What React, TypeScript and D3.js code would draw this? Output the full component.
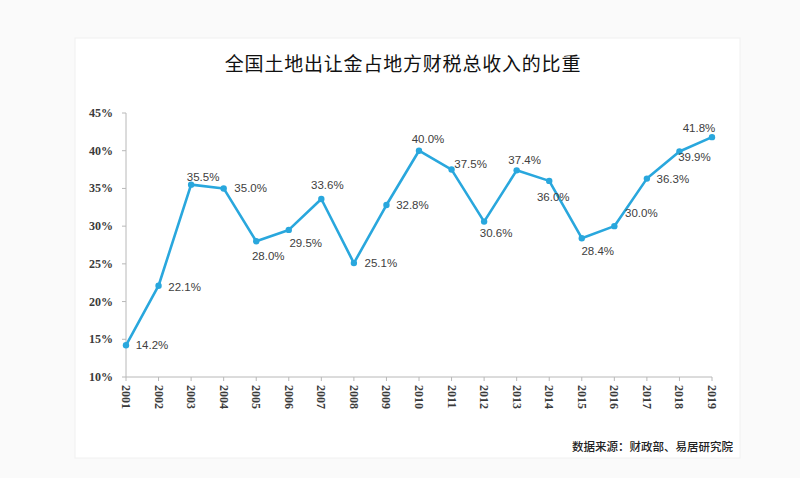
import React from 'react';
import * as d3 from 'd3';

const years = ['2001', '2002', '2003', '2004', '2005', '2006', '2007', '2008', '2009', '2010',
  '2011', '2012', '2013', '2014', '2015', '2016', '2017', '2018', '2019'];
const shares = [14.2, 22.1, 35.5, 35.0, 28.0, 29.5, 33.6, 25.1, 32.8, 40.0,
  37.5, 30.6, 37.4, 36.0, 28.4, 30.0, 36.3, 39.9, 41.8];
const yTicks = [10, 15, 20, 25, 30, 35, 40, 45];

const title = '全国土地出让金占地方财税总收入的比重';
const source = '数据来源：财政部、易居研究院';

// label offset (centre of text relative to the point)
const labelOffsets: [number, number][] = [
  [26, 0], [26, 1], [12, -8], [27, 0], [12, 15], [17, 13], [6, -14], [27, 0], [26, 0], [9, -12],
  [19, -6], [12, 11], [8, -10], [4, 16], [16, 13], [27, -13], [26, 0], [15, 6], [-13, -9],
];

const W = 800;
const H = 478;
const margin = { top: 113, right: 88, bottom: 101, left: 126 };

export default function App() {
  const x = d3.scalePoint<string>()
    .domain(years)
    .range([margin.left, W - margin.right]);

  const y = d3.scaleLinear()
    .domain([10, 45])
    .range([H - margin.bottom, margin.top]);

  const line = d3.line<number>()
    .x((_, i) => x(years[i]) as number)
    .y(d => y(d));

  const lineColor = '#29a7dd';
  const axisColor = '#b8b8b8';

  return (
    <div style={{ position: 'fixed', left: 0, top: 0, width: W, height: H }}>
      <svg width={W} height={H} style={{ display: 'block' }}>
        <rect x={0} y={0} width={W} height={H} fill="#fafafa" />
        <rect x={75} y={38} width={665} height={420} fill="#ffffff" stroke="#f0f0f0" />

        <text
          x={403}
          y={62}
          textAnchor="middle"
          dominantBaseline="central"
          fontFamily="'Noto Sans CJK SC', sans-serif"
          fontSize={19}
          fontWeight={400}
          letterSpacing={0.8}
          fill="#111"
        >
          {title}
        </text>

        {/* y axis */}
        <line x1={margin.left} x2={margin.left} y1={y(45)} y2={y(10)} stroke={axisColor} strokeWidth={1} />
        {yTicks.map(t => (
          <g key={t} transform={`translate(${margin.left},${y(t)})`}>
            <line x1={-4} x2={0} stroke={axisColor} />
            <text
              x={-13}
              textAnchor="end"
              dominantBaseline="central"
              fontFamily="'Liberation Serif', serif"
              fontWeight="bold"
              fontSize={12}
              fill="#3a3a3a"
            >
              {t}%
            </text>
          </g>
        ))}

        {/* x axis */}
        <line x1={margin.left} x2={W - margin.right} y1={y(10)} y2={y(10)} stroke={axisColor} strokeWidth={1} />
        {years.map(yr => (
          <g key={yr} transform={`translate(${x(yr)},${y(10)})`}>
            <line y1={0} y2={4} stroke={axisColor} />
            <text
              transform="translate(0,8) rotate(90)"
              dominantBaseline="central"
              fontFamily="'Liberation Serif', serif"
              fontWeight="bold"
              fontSize={12}
              fill="#3a3a3a"
            >
              {yr}
            </text>
          </g>
        ))}

        {/* series */}
        <path d={line(shares) || ''} fill="none" stroke={lineColor} strokeWidth={2.6} strokeLinejoin="round" />
        {shares.map((v, i) => (
          <circle key={i} cx={x(years[i])} cy={y(v)} r={3.2} fill={lineColor} />
        ))}
        {shares.map((v, i) => (
          <text
            key={'l' + i}
            x={(x(years[i]) as number) + labelOffsets[i][0]}
            y={y(v) + labelOffsets[i][1]}
            textAnchor="middle"
            dominantBaseline="central"
            fontFamily="'Liberation Sans', sans-serif"
            fontSize={11.5}
            fill="#404040"
          >
            {v.toFixed(1)}%
          </text>
        ))}

        <text
          x={733}
          y={446}
          textAnchor="end"
          dominantBaseline="central"
          fontFamily="'Noto Sans CJK SC', sans-serif"
          fontSize={11.5}
          fontWeight={500}
          fill="#222"
        >
          {source}
        </text>
      </svg>
    </div>
  );
}
